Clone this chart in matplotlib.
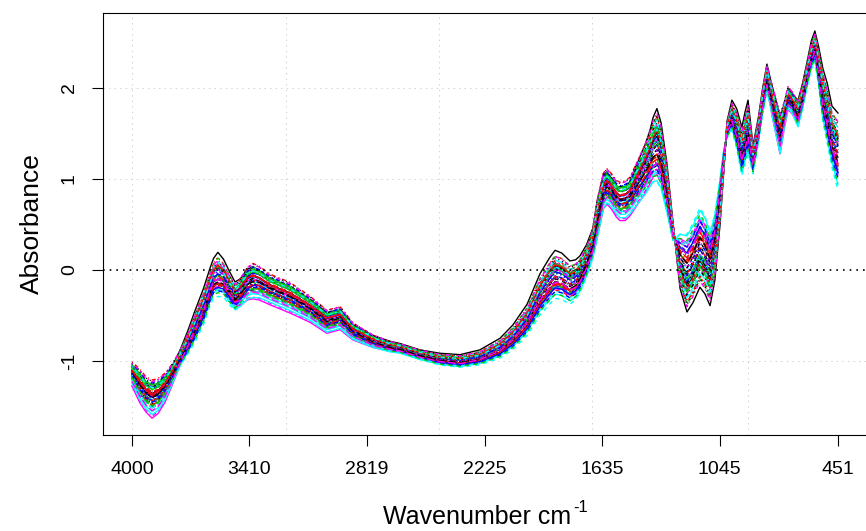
import numpy as np
import matplotlib
matplotlib.use("Agg")
import matplotlib.pyplot as plt

# -----------------------------
# Data
# -----------------------------
wavenumber = [4000, 3960, 3930, 3899, 3870, 3834, 3800, 3759, 3720, 3683,
              3640, 3608, 3590, 3568, 3540, 3510, 3482, 3455, 3420, 3392,
              3360, 3306, 3206, 3105, 3020, 2954, 2889, 2788, 2703, 2653,
              2552, 2452, 2351, 2251, 2150, 2085, 2014, 1949, 1900, 1873,
              1840, 1798, 1770, 1748, 1715, 1683, 1660, 1630, 1612, 1590,
              1565, 1547, 1520, 1497, 1446, 1420, 1396, 1380, 1361, 1340,
              1311, 1280, 1245, 1210, 1180, 1145, 1120, 1094, 1070, 1044,
              1025, 1009, 984, 960, 934, 918, 903, 878, 850, 830,
              808, 790, 780, 742, 720, 702, 680, 652, 630, 607,
              585, 567, 547, 527, 505, 481, 451]

# central spectrum
mean_abs = [-1.13, -1.26, -1.35, -1.40, -1.37, -1.28, -1.15, -0.97, -0.80, -0.62,
            -0.40, -0.19, -0.09, -0.05, -0.09, -0.20, -0.29, -0.24, -0.14, -0.11,
            -0.13, -0.20, -0.29, -0.42, -0.56, -0.52, -0.67, -0.78, -0.84, -0.86,
            -0.93, -0.98, -1.00, -0.96, -0.86, -0.74, -0.55, -0.27, -0.12, -0.05,
            -0.07, -0.14, -0.11, -0.05, 0.10, 0.30, 0.58, 0.88, 0.93, 0.88,
            0.80, 0.77, 0.78, 0.82, 1.02, 1.12, 1.23, 1.32, 1.37, 1.25,
            0.90, 0.42, 0.10, -0.03, 0.08, 0.25, 0.17, 0.02, 0.25, 0.75,
            1.20, 1.54, 1.70, 1.55, 1.30, 1.45, 1.57, 1.21, 1.55, 1.85,
            2.12, 1.95, 1.85, 1.50, 1.72, 1.90, 1.84, 1.72, 1.90, 2.14,
            2.36, 2.46, 2.22, 1.92, 1.72, 1.46, 1.30]

# half width of the band of samples (signed: where samples swap order)
spread = [0.11, 0.16, 0.17, 0.18, 0.17, 0.14, 0.11, 0.09, 0.11, 0.14,
          0.16, 0.16, 0.17, 0.19, 0.17, 0.16, 0.15, 0.16, 0.18, 0.19,
          0.17, 0.15, 0.15, 0.13, 0.12, 0.12, 0.09, 0.07, 0.06, 0.055,
          0.055, 0.06, 0.065, 0.07, 0.09, 0.11, 0.14, 0.19, 0.22, 0.23,
          0.22, 0.21, 0.20, 0.19, 0.17, 0.17, 0.22, 0.20, 0.19, 0.18,
          0.18, 0.19, 0.20, 0.20, 0.26, 0.29, 0.32, 0.36, 0.40, 0.36,
          0.27, 0.10, -0.30, -0.42, -0.42, -0.42, -0.42, -0.40, -0.36, -0.25,
          -0.12, 0.08, 0.15, 0.20, 0.24, 0.26, 0.27, 0.14, 0.13, 0.14,
          0.15, 0.16, 0.18, 0.22, 0.14, 0.12, 0.12, 0.15, 0.14, 0.13,
          0.14, 0.15, 0.20, 0.27, 0.30, 0.30, 0.38]

# secondary variation so that the samples cross each other
alt = [0.05, 0.06, 0.06, 0.07, 0.06, 0.05, 0.03, 0.00, -0.03, -0.05,
       -0.06, -0.07, -0.07, -0.08, -0.06, -0.04, -0.02, 0.01, 0.03, 0.04,
       0.05, 0.05, 0.05, 0.04, 0.03, 0.03, 0.02, 0.01, 0.00, 0.00,
       0.00, -0.01, -0.01, -0.02, -0.03, -0.04, -0.05, -0.06, -0.06, -0.06,
       -0.06, -0.05, -0.04, -0.03, -0.02, 0.00, 0.02, 0.03, 0.04, 0.05,
       0.06, 0.06, 0.06, 0.05, 0.03, 0.02, 0.00, -0.02, -0.03, -0.03,
       -0.02, 0.00, 0.02, 0.04, 0.05, 0.05, 0.04, 0.04, 0.03, 0.02,
       0.00, -0.02, -0.03, -0.04, -0.05, -0.05, -0.05, -0.03, -0.02, -0.01,
       0.00, 0.01, 0.02, 0.03, 0.03, 0.03, 0.02, 0.00, -0.01, -0.02,
       -0.03, -0.03, -0.04, -0.05, -0.06, -0.07, -0.08]

# per-sample position inside the band
sample_a = [0.95, -0.62, 0.31, -0.15, 0.72, -0.88, 0.05, 0.44, -0.37, 0.18, -0.71, 0.58,
            -0.05, 0.83, -0.49, 0.26, -0.93, 0.12, 0.64, -0.28, 0.39, -0.56, 0.02, -0.81,
            0.48, -0.19, 0.77, -0.42, 0.21, -0.66, 0.34, 0.09, -0.33, 0.55, -0.74, 0.15,
            -0.09, 0.68, -0.52, 0.29, -0.98, 0.41, 0.86, -0.24, 0.07, -0.45, 0.61, -0.12,
            0.22, -0.35, 0.50, -0.60, 0.13, 0.90, -0.20, 0.36, -0.78, 0.01, 0.46, -0.54]
sample_b = [-0.8, 0.5, 0.9, -0.3, 0.1, -1.0, 0.7, -0.6, 0.2, 1.0, -0.4, 0.3,
            -0.9, 0.6, 0.0, -0.2, 0.8, -0.7, 0.4, -0.5, 0.95, -0.1, 0.55, -0.85,
            0.15, 0.75, -0.45, 0.35, -0.95, 0.05, -0.25, 0.65, -0.65, 0.85, 0.25, -0.35,
            0.45, -0.75, 0.1, 0.6, -0.15, -0.55, 0.3, 0.9, -0.9, 0.7, -0.3, 0.2,
            -0.6, 0.4, -0.05, 0.8, -0.8, 0.15, 0.5, -0.4, 0.65, -0.2, 0.35, -0.7]

xtick_labels = [4000, 3410, 2819, 2225, 1635, 1045, 451]
ytick_values = [-1, 0, 1, 2]
grid_x = [4000, 3228, 2457, 1685, 903]
grid_y = [-1, 1, 2]

# -----------------------------
# Style
# -----------------------------
plt.rcParams["font.family"] = ["Liberation Sans", "DejaVu Sans"]
plt.rcParams["lines.scale_dashes"] = False

# R matplot defaults: col = 1:6, lty = 1:5
colors = ["#000000", "#FF0000", "#00CD00", "#0000FF", "#00FFFF", "#FF00FF"]
ltys = ["-", (0, (3, 3)), (0, (0.8, 2.2)), (0, (0.8, 2.2, 3, 2.2)), (0, (5.5, 2.2))]

# -----------------------------
# Plot
# -----------------------------
fig = plt.figure(figsize=(8.66, 5.31), dpi=100)
ax = fig.add_axes([0.1189, 0.1808, 0.8911, 0.7947])

for gx in grid_x:
    ax.axvline(gx, color="#D3D3D3", lw=0.75, ls=(0, (1, 3)), zorder=0)
for gy in grid_y:
    ax.axhline(gy, color="#D3D3D3", lw=0.75, ls=(0, (1, 3)), zorder=0)

wn = np.array(wavenumber)
m = np.array(mean_abs)
s = np.array(spread)
t = np.array(alt)
for i, (a, b) in enumerate(zip(sample_a, sample_b)):
    ax.plot(wn, m + a * s + b * t, color=colors[i % 6], ls=ltys[i % 5], lw=1.0)

ax.axhline(0, color="black", lw=1.2, ls=(0, (1.2, 3.6)), zorder=5)

ax.set_xlim(4145.8, 266.5)
ax.set_ylim(-1.813, 2.824)

ax.set_xticks(xtick_labels)
ax.set_xticklabels([str(v) for v in xtick_labels])
ax.set_yticks(ytick_values)
ax.set_yticklabels([str(v) for v in ytick_values], rotation=90, va="center")
ax.tick_params(axis="x", length=8, width=0.8, pad=11, labelsize=14)
ax.tick_params(axis="y", length=8, width=0.8, pad=10, labelsize=14)

for sp in ax.spines.values():
    sp.set_linewidth(0.8)

# x label with a plain hyphen superscript, as R draws it
xlab = fig.text(383 / 866, 7 / 531, "Wavenumber cm", fontsize=18,
                ha="left", va="baseline")
fig.canvas.draw()
bb = xlab.get_window_extent()
fig.text((bb.x1 + 2) / 866, 19 / 531, "-1", fontsize=12, ha="left", va="baseline")
ax.set_ylabel("Absorbance", fontsize=19, labelpad=12)

fig.savefig("out.png", dpi=100)
